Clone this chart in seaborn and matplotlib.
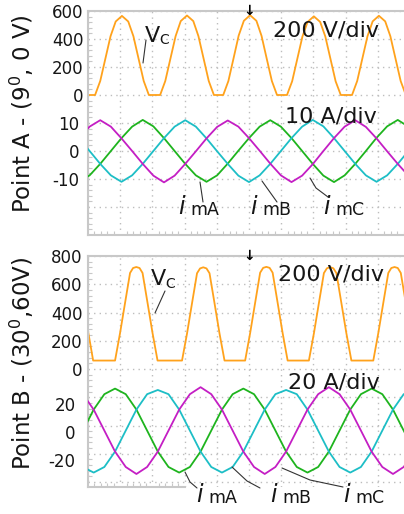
import matplotlib
matplotlib.use("Agg")
import matplotlib.pyplot as plt
import seaborn as sns
from matplotlib.ticker import MultipleLocator, FuncFormatter, FixedLocator
from matplotlib.lines import Line2D

# ---------------- data (time in ms, 5 ms/div) ----------------
# Point A - (9 deg, 0 V): capacitor voltage Vc [V]
t_vc_a = [0.0, 1.1, 1.9, 2.7, 3.5, 4.3, 5.27, 6.25, 7.05, 7.85, 8.65, 9.45,
          11.2, 12.0, 12.8, 13.6, 14.4, 15.37, 16.35, 17.15, 17.95, 18.75, 19.55,
          21.0, 21.8, 22.6, 23.4, 24.2, 25.17, 26.15, 26.95, 27.75, 28.55, 29.35,
          30.9, 31.7, 32.5, 33.3, 34.1, 35.07, 36.05, 36.85, 37.65, 38.45, 39.25,
          41.0, 41.8, 42.6, 43.4, 44.2, 45.17, 46.15, 46.95, 47.75, 48.55, 49.35, 51.0]
vc_a = [0, 0, 100, 260, 420, 525, 565, 525, 420, 260, 100, 0,
        0, 100, 260, 420, 528, 568, 528, 420, 260, 100, 0,
        0, 100, 262, 425, 530, 570, 530, 422, 260, 100, 0,
        0, 98, 258, 418, 522, 562, 522, 418, 258, 98, 0,
        0, 100, 260, 420, 526, 566, 526, 420, 260, 100, 0, 0]

# Point A currents [A]
t_i_a = [-1.4, 0.25, 1.9, 3.55, 5.2, 6.85, 8.5, 10.15, 11.8, 13.45, 15.1, 16.75,
         18.4, 20.05, 21.7, 23.35, 25.0, 26.65, 28.3, 29.95, 31.6, 33.25, 34.9,
         36.55, 38.2, 39.85, 41.5, 43.15, 44.8, 46.45, 48.1, 49.75, 51.4]
ima_a = [-11.0, -8.7, -4.6, 0.0, 4.6, 8.7, 11.1, 8.8, 4.6, 0.0, -4.6, -8.7,
         -11.0, -8.7, -4.5, 0.1, 4.6, 8.7, 11.0, 8.7, 4.6, 0.0, -4.6,
         -8.8, -11.1, -8.7, -4.6, 0.0, 4.7, 8.8, 11.1, 8.7, 4.5]
imb_a = [4.6, 0.0, -4.6, -8.7, -11.0, -8.7, -4.6, 0.0, 4.6, 8.7, 11.0, 8.7,
         4.5, -0.1, -4.6, -8.8, -11.1, -8.7, -4.6, 0.0, 4.6, 8.7, 11.1,
         8.8, 4.6, 0.0, -4.6, -8.7, -11.0, -8.7, -4.6, 0.0, 4.6]
imc_a = [4.6, 8.7, 11.0, 8.7, 4.5, 0.0, -4.6, -8.8, -11.2, -8.8, -4.6, -0.1,
         4.5, 8.6, 10.9, 8.7, 4.6, 0.1, -4.5, -8.7, -11.1, -8.8, -4.7,
         0.0, 4.6, 8.7, 11.0, 8.6, 4.5, -0.1, -4.6, -8.8, -11.1]

# Point B - (30 deg, 60 V): capacitor voltage Vc [V]
t_vc_b = [0.0, 0.8,
          4.2, 4.98, 5.75, 6.53, 7.0, 7.5, 8.0, 8.47, 9.25, 10.02, 10.8,
          14.6, 15.38, 16.15, 16.93, 17.4, 17.9, 18.4, 18.87, 19.65, 20.42, 21.2,
          24.4, 25.18, 25.95, 26.73, 27.2, 27.7, 28.2, 28.67, 29.45, 30.22, 31.0,
          34.3, 35.08, 35.85, 36.63, 37.1, 37.6, 38.1, 38.57, 39.35, 40.12, 40.9,
          44.3, 45.08, 45.85, 46.63, 47.1, 47.6, 48.1, 48.57, 49.35, 50.12, 50.9]
vc_b = [270, 60,
        60, 255, 467, 680, 715, 722, 715, 680, 467, 255, 60,
        60, 252, 465, 678, 712, 720, 712, 678, 465, 252, 60,
        60, 255, 468, 682, 716, 723, 716, 682, 468, 255, 60,
        60, 253, 466, 679, 713, 721, 713, 679, 466, 253, 60,
        60, 255, 467, 680, 715, 722, 715, 680, 467, 255, 60]

# Point B currents [A]
t_i_b = [-0.78, 0.88, 2.54, 4.2, 5.86, 7.52, 9.18, 10.84, 12.5, 14.16, 15.82,
         17.48, 19.14, 20.8, 22.46, 24.12, 25.78, 27.44, 29.1, 30.76, 32.42,
         34.08, 35.74, 37.4, 39.06, 40.72, 42.38, 44.04, 45.7, 47.36, 49.02, 50.68]
ima_b = [1, 16, 27, 31, 27, 16, 1, -14, -25, -29, -25, -14, 1, 16, 27, 31,
         27, 16, 1, -14, -25, -29, -25, -14, 1, 16, 27, 31, 27, 16, 1, -14]
imb_b = [-25, -29, -25, -14, 1, 16, 27, 30, 27, 16, 1, -14, -25, -29, -25, -14,
         1, 16, 27, 30, 27, 16, 1, -14, -25, -29, -25, -14, 1, 16, 27, 30]
imc_b = [27, 16, 1, -14, -25, -30, -25, -14, 1, 16, 27, 32, 27, 16, 1, -14,
         -25, -30, -25, -14, 1, 16, 27, 32, 27, 16, 1, -14, -25, -30, -25, -14]

# tick labels
v_ticks_a = [0, 200, 400, 600]
i_ticks_a = [-10, 0, 10]
v_ticks_b = [0, 200, 400, 600, 800]
i_ticks_b = [-20, 0, 20]

panel_labels = ["Point A - (9$^{0}$, 0 V)", "Point B - (30$^{0}$,60V)"]
scale_v = "200 V/div"
scale_i = ["10 A/div", "20 A/div"]
sub_labels = ["mA", "mB", "mC"]

# ---------------- style ----------------
sns.set_style("white")
plt.rcParams["font.family"] = ["DejaVu Sans"]
plt.rcParams["mathtext.fontset"] = "dejavusans"

C_V = "#FFA21C"
C_A = "#1EB41E"   # i_mA green
C_B = "#1DBEC6"   # i_mB cyan
C_C = "#C41EC4"   # i_mC magenta
GRID = "#bdbdbd"
FRAME = "#c8c8c8"
TXT = "#161616"

W, H = 404, 514
fig = plt.figure(figsize=(W / 100, H / 100), dpi=100)
fig.patch.set_facecolor("white")


def px_axes(x0, y0, x1, y1):
    return fig.add_axes([x0 / W, 1 - y1 / H, (x1 - x0) / W, (y1 - y0) / H])


def ftext(x, y, s, **kw):
    return fig.text(x / W, 1 - y / H, s, **kw)


def fline(pts, **kw):
    xs = [p[0] / W for p in pts]
    ys = [1 - p[1] / H for p in pts]
    fig.add_artist(Line2D(xs, ys, transform=fig.transFigure, **kw))


def setup(ax, tw, vlim, ilim, vticks, iticks, vpad, ipad, bottom_bounds=None):
    ax.set_xlim(0, 50)
    ax.set_ylim(*vlim)
    tw.set_ylim(*ilim)
    ax.xaxis.set_major_locator(MultipleLocator(5))
    ax.yaxis.set_major_locator(MultipleLocator(200))
    ax.yaxis.set_minor_locator(MultipleLocator(40))
    if bottom_bounds is None:
        ax.xaxis.set_minor_locator(MultipleLocator(1))
    else:
        ax.xaxis.set_minor_locator(FixedLocator(list(range(0, bottom_bounds + 1))))
        ax.spines["bottom"].set_bounds(0, bottom_bounds)
    ax.xaxis.set_major_formatter(FuncFormatter(lambda v, p: ""))
    ax.yaxis.set_major_formatter(
        FuncFormatter(lambda v, p: f"{int(round(v))}" if int(round(v)) in vticks else ""))
    ax.grid(True, which="major", color=GRID, linestyle=(0, (1, 3)), linewidth=1.0)
    ax.tick_params(which="major", length=0, labelsize=12, labelcolor=TXT, pad=vpad)
    ax.tick_params(which="minor", direction="in", length=3, width=0.8, color=FRAME,
                   left=True, bottom=True, top=False, right=False)
    for side, sp in ax.spines.items():
        sp.set_color(FRAME)
        sp.set_linewidth(1.5)
    ax.spines["right"].set_visible(False)
    ax.set_xlabel("")
    ax.set_ylabel("")

    tw.yaxis.tick_left()
    tw.set_yticks(iticks)
    tw.set_yticklabels([str(v) for v in iticks])
    tw.tick_params(axis="y", length=0, labelsize=12, labelcolor=TXT, pad=ipad,
                   left=True, right=False, labelleft=True, labelright=False)
    for sp in tw.spines.values():
        sp.set_visible(False)
    tw.set_ylabel("")


LW = 1.3

# ---------------- Panel A ----------------
axA = px_axes(88, 11, 410, 235)
twA = axA.twinx()
sns.lineplot(x=t_vc_a, y=vc_a, ax=axA, color=C_V, lw=LW, estimator=None, sort=False)
sns.lineplot(x=t_i_a, y=ima_a, ax=twA, color=C_A, lw=LW, estimator=None, sort=False)
sns.lineplot(x=t_i_a, y=imb_a, ax=twA, color=C_B, lw=LW, estimator=None, sort=False)
sns.lineplot(x=t_i_a, y=imc_a, ax=twA, color=C_C, lw=LW, estimator=None, sort=False)
setup(axA, twA, (-1000, 600), (-30, 50), v_ticks_a, i_ticks_a, 3, 6)

# ---------------- Panel B ----------------
axB = px_axes(88, 256, 410, 487)
twB = axB.twinx()
sns.lineplot(x=t_vc_b, y=vc_b, ax=axB, color=C_V, lw=LW, estimator=None, sort=False)
sns.lineplot(x=t_i_b, y=ima_b, ax=twB, color=C_A, lw=LW, estimator=None, sort=False)
sns.lineplot(x=t_i_b, y=imb_b, ax=twB, color=C_B, lw=LW, estimator=None, sort=False)
sns.lineplot(x=t_i_b, y=imc_b, ax=twB, color=C_C, lw=LW, estimator=None, sort=False)
setup(axB, twB, (-835, 800), (-39.3, 125.7), v_ticks_b, i_ticks_b, 4, 9, bottom_bounds=15)

# trigger markers
for ax in (axA, axB):
    ax.text(0.5, 1.0, "↓", transform=ax.transAxes, ha="center", va="center",
            fontsize=10, fontweight="bold", color="black", clip_on=False)

# ---------------- annotations ----------------
# panel A
ftext(145, 36, "V", fontsize=16, color=TXT, ha="left", va="center")
ftext(159, 40, "C", fontsize=10, color=TXT, ha="left", va="center")
fline([(146, 40), (143, 63)], color="#333333", lw=0.8)
ftext(273, 30, scale_v, fontsize=16, color=TXT, ha="left", va="center")
ftext(285, 117, scale_i[0], fontsize=16, color=TXT, ha="left", va="center")

xs_a = [178, 250, 323]
for x, s in zip(xs_a, sub_labels):
    ftext(x, 207, "i", fontsize=17, style="italic", color=TXT, ha="left", va="center")
    ftext(x + 12, 210, s, fontsize=12.5, color=TXT, ha="left", va="center")
fline([(200, 182), (203, 202)], color="#333333", lw=0.8)
fline([(262, 181), (277, 202)], color="#333333", lw=0.8)
fline([(310, 178), (316, 188), (328, 197)], color="#333333", lw=0.8)

# panel B
ftext(151, 279, "V", fontsize=16, color=TXT, ha="left", va="center")
ftext(165, 284, "C", fontsize=10, color=TXT, ha="left", va="center")
fline([(165, 291), (155, 313)], color="#333333", lw=0.8)
ftext(278, 274, scale_v, fontsize=16, color=TXT, ha="left", va="center")
ftext(288, 382, scale_i[1], fontsize=16, color=TXT, ha="left", va="center")

xs_b = [196, 270, 343]
for x, s in zip(xs_b, sub_labels):
    ftext(x, 495, "i", fontsize=17, style="italic", color=TXT, ha="left", va="center")
    ftext(x + 12, 498, s, fontsize=12.5, color=TXT, ha="left", va="center")
fline([(185, 472), (190, 482), (197, 488)], color="#333333", lw=0.8)
fline([(232, 467), (247, 481), (260, 488)], color="#333333", lw=0.8)
fline([(282, 468), (310, 480), (343, 487)], color="#333333", lw=0.8)

# side labels
ftext(22, 114, panel_labels[0], fontsize=16.5, rotation=90, color=TXT,
      ha="center", va="center")
ftext(22, 363, panel_labels[1], fontsize=16.5, rotation=90, color=TXT,
      ha="center", va="center")

fig.savefig("out.png", dpi=100, facecolor="white")
